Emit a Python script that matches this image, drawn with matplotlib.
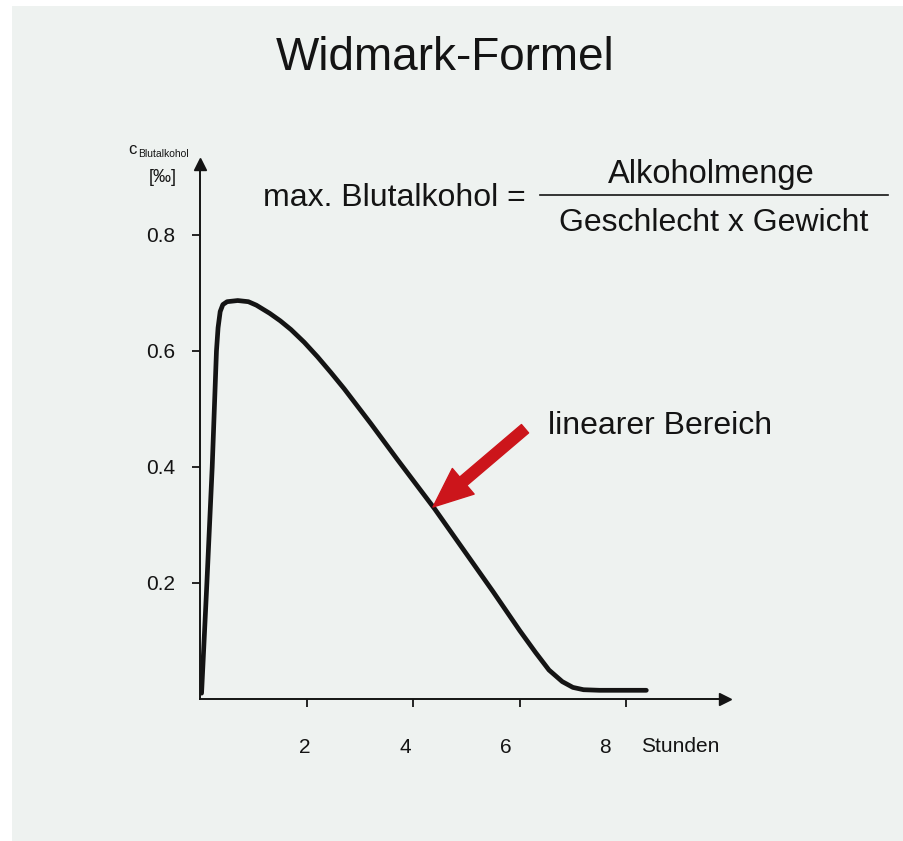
"""Widmark-Formel: Blutalkohol-Kurve (matplotlib Agg)."""

import matplotlib

matplotlib.use("Agg")
import matplotlib.pyplot as plt
from matplotlib.patches import Rectangle
from matplotlib.transforms import ScaledTranslation

_BG = "#eef2f0"
_INK = "#141414"
_RED = "#cc151b"

plt.rcParams["font.family"] = ["Liberation Sans", "DejaVu Sans"]

# Kurve (Stunden, Promille)
hours = [0.02, 0.12, 0.22, 0.30, 0.33, 0.37, 0.42, 0.50, 0.70, 0.90, 1.05,
         1.30, 1.50, 1.70, 1.95, 2.20, 2.45, 2.70, 3.20, 3.70, 4.40, 5.00,
         5.50, 6.00, 6.30, 6.55, 6.80, 7.00, 7.20, 7.50, 8.00, 8.38]
bac = [0.01, 0.20, 0.40, 0.60, 0.64, 0.668, 0.680, 0.685, 0.687, 0.685, 0.679,
       0.665, 0.652, 0.637, 0.615, 0.59, 0.563, 0.535, 0.475, 0.413, 0.328,
       0.25, 0.185, 0.118, 0.08, 0.05, 0.03, 0.02, 0.016, 0.015, 0.015, 0.015]

x_ticks = [2, 4, 6, 8]
x_tick_labels = ["2", "4", "6", "8"]
y_ticks = [0.2, 0.4, 0.6, 0.8]
y_tick_labels = ["0.2", "0.4", "0.6", "0.8"]

arrow_tip = (4.37, 0.331)
arrow_tail = (6.10, 0.466)

# in der Vorlage stehen die x-Beschriftungen etwas links der Striche (px)
_XLABEL_SHIFT = [-2, -8, -14, -21]

W, H = 904, 841


def fx(px):
    return px / W


def fy(py):
    return 1 - py / H


fig = plt.figure(figsize=(W / 100, H / 100), dpi=100)
fig.patch.set_facecolor("white")
fig.add_artist(Rectangle((fx(12), 0), 1, fy(6), transform=fig.transFigure,
                         facecolor=_BG, edgecolor="none", zorder=-10))

# x: 53.2 px pro Stunde ab x=200.5 px; y: 580 px pro Promille ab y=699 px
ax = fig.add_axes([fx(200.5), fy(699), fx(725) - fx(200.5), fy(164) - fy(699)])
ax.set_facecolor("none")
ax.set_xlim(0, (725 - 200.5) / 53.2)
ax.set_ylim(0, (699 - 164) / 580)
for side in ("top", "right"):
    ax.spines[side].set_visible(False)
for side in ("left", "bottom"):
    ax.spines[side].set_color(_INK)
    ax.spines[side].set_linewidth(1.4)
ax.plot(1, 0, ">", color=_INK, ms=8, transform=ax.transAxes, clip_on=False)
ax.plot(0, 1, "^", color=_INK, ms=8, transform=ax.transAxes, clip_on=False)

ax.set_xticks(x_ticks, x_tick_labels)
ax.set_yticks(y_ticks, y_tick_labels)
ax.tick_params(axis="x", direction="out", length=6, width=1.3, pad=22,
               labelsize=15, colors=_INK)
ax.tick_params(axis="y", direction="out", length=6, width=1.3, pad=12,
               labelsize=15, colors=_INK)
for lbl, dx in zip(ax.get_xticklabels(), _XLABEL_SHIFT):
    lbl.set_transform(lbl.get_transform() + ScaledTranslation(dx / 100, 0, fig.dpi_scale_trans))

ax.plot(hours, bac, color=_INK, linewidth=3.4, solid_capstyle="round",
        solid_joinstyle="round", zorder=3)

ax.annotate("", xy=arrow_tip, xytext=arrow_tail,
            arrowprops=dict(arrowstyle="simple,head_length=1.3,head_width=1.1,tail_width=0.36",
                            mutation_scale=22, color=_RED, shrinkA=0, shrinkB=0))

fig.text(fx(680), fy(746), "Stunden", fontsize=15, color=_INK, ha="center", va="center")

fig.text(fx(445), fy(58), "Widmark-Formel", fontsize=33, color=_INK,
         ha="center", va="center")

fig.text(fx(137), fy(149), "c", fontsize=12, color=_INK, ha="right", va="center")
fig.text(fx(138), fy(154), "Blutalkohol", fontsize=7.5, color=_INK, ha="left", va="center")
fig.text(fx(177), fy(178), "[‰]", fontsize=13, color=_INK, ha="right", va="center")

fig.text(fx(263), fy(198), "max. Blutalkohol =", fontsize=23, color=_INK,
         ha="left", va="center")
fig.add_artist(plt.Line2D([fx(540), fx(888)], [fy(195), fy(195)], color=_INK,
                          linewidth=1.2, transform=fig.transFigure))
fig.text(fx(711), fy(174), "Alkoholmenge", fontsize=23.5, color=_INK,
         ha="center", va="center")
fig.text(fx(714), fy(223), "Geschlecht x Gewicht", fontsize=23, color=_INK,
         ha="center", va="center")

fig.text(fx(548), fy(426), "linearer Bereich", fontsize=23, color=_INK,
         ha="left", va="center")

fig.savefig("out.png", dpi=100, facecolor=fig.get_facecolor())
